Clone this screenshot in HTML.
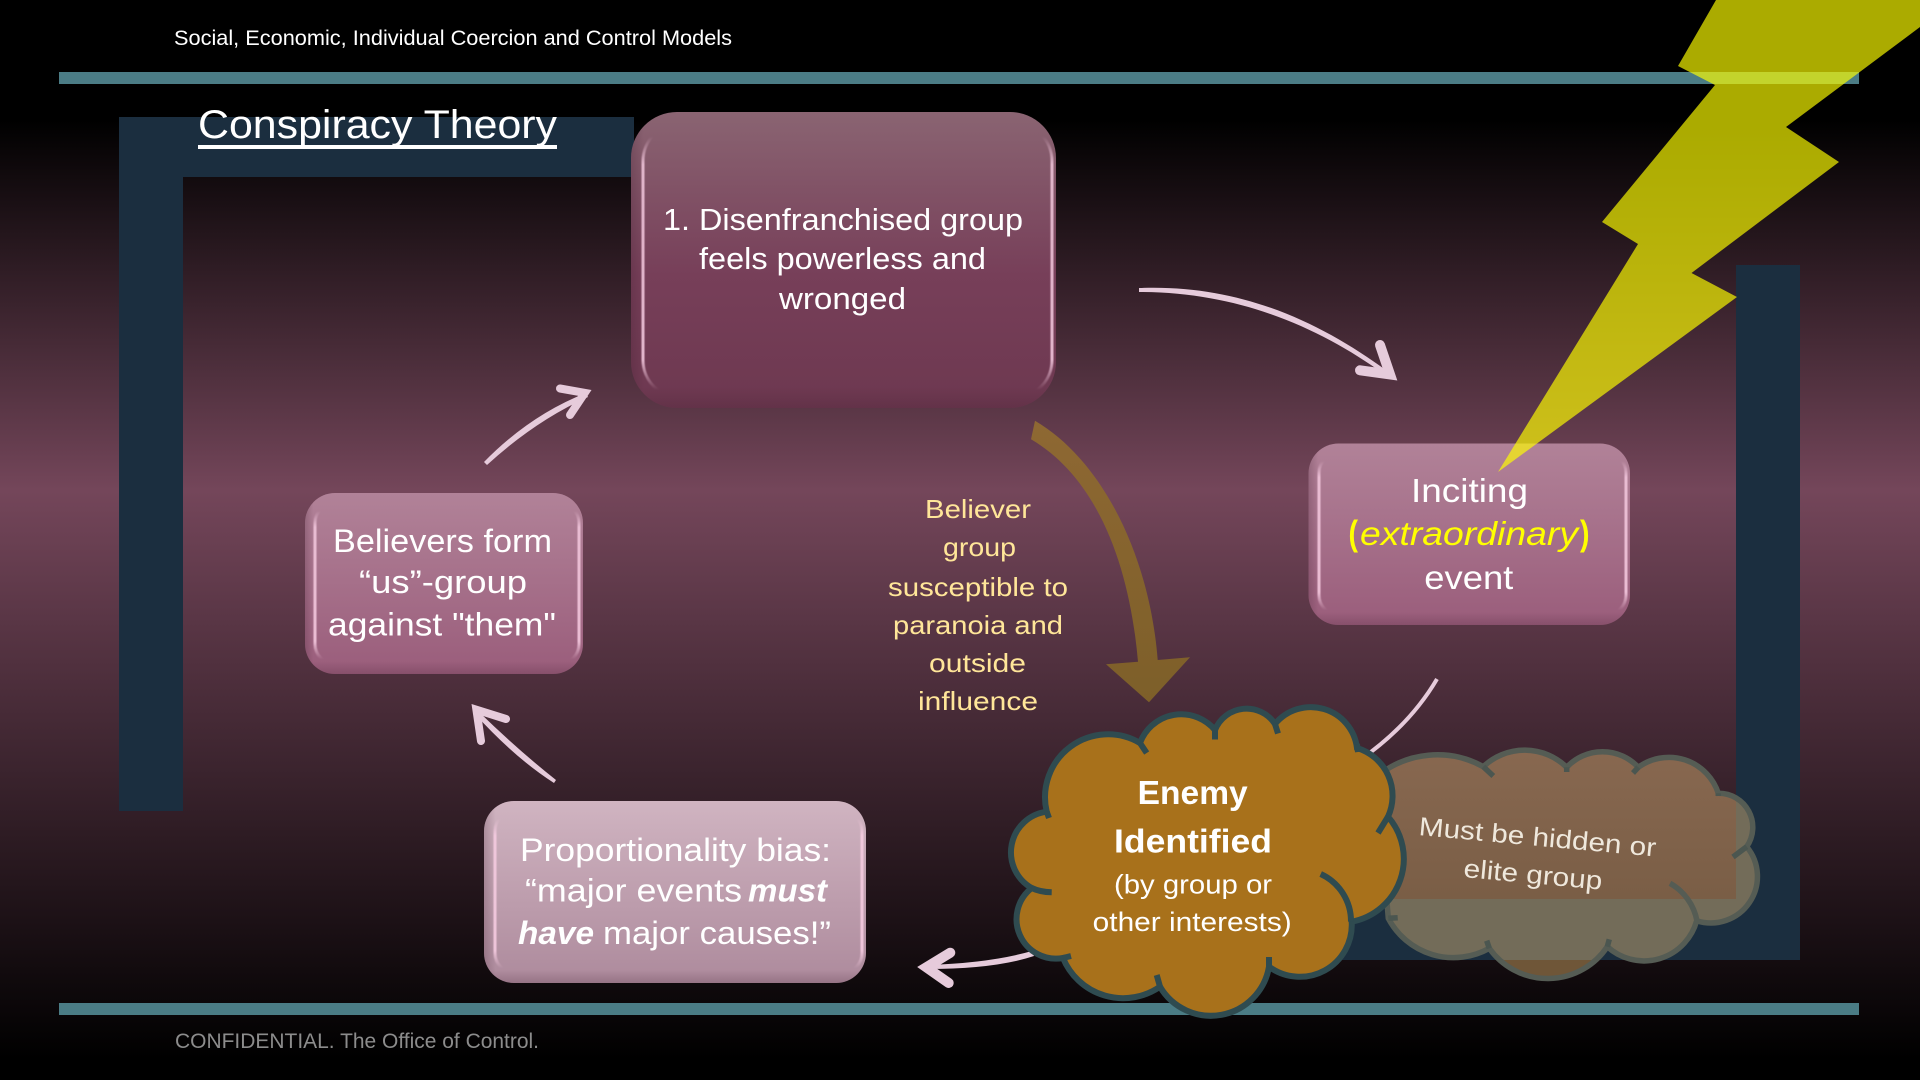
<!DOCTYPE html>
<html><head><meta charset="utf-8"><title>Conspiracy Theory</title>
<style>html,body{margin:0;padding:0;background:#000}svg{display:block}text{font-family:"Liberation Sans",sans-serif;fill:#fff}</style></head>
<body>
<svg width="1920" height="1080" viewBox="0 0 1920 1080" xmlns="http://www.w3.org/2000/svg">
<defs>
<linearGradient id="bg" gradientUnits="userSpaceOnUse" x1="0" y1="0" x2="0" y2="1080">
<stop offset="0" stop-color="#000"/><stop offset=".111" stop-color="#000"/><stop offset=".454" stop-color="#74465a"/><stop offset=".981" stop-color="#000"/><stop offset="1" stop-color="#000"/></linearGradient>
<linearGradient id="g1" x1="0" y1="0" x2="0" y2="1"><stop offset="0" stop-color="#8a6472"/><stop offset=".55" stop-color="#773f59"/><stop offset="1" stop-color="#6d3850"/></linearGradient>
<linearGradient id="g2" x1="0" y1="0" x2="0" y2="1"><stop offset="0" stop-color="#b18298"/><stop offset="1" stop-color="#9a5d7b"/></linearGradient>
<linearGradient id="g3" x1="0" y1="0" x2="0" y2="1"><stop offset="0" stop-color="#d0b4c1"/><stop offset="1" stop-color="#ad8a9c"/></linearGradient>
<linearGradient id="hl" x1="0" y1="0" x2="0" y2="1"><stop offset="0" stop-color="#fbd0e6" stop-opacity="0"/><stop offset=".05" stop-color="#fbd0e6" stop-opacity="0"/><stop offset=".15" stop-color="#fbd0e6" stop-opacity=".8"/><stop offset=".86" stop-color="#fbd0e6" stop-opacity=".85"/><stop offset=".97" stop-color="#fbd0e6" stop-opacity="0"/><stop offset="1" stop-color="#fbd0e6" stop-opacity="0"/></linearGradient>
<linearGradient id="lb" x1="0" y1="0" x2="1" y2="0"><stop offset="0" stop-color="#3a1a2a" stop-opacity=".22"/><stop offset=".03" stop-color="#3a1a2a" stop-opacity="0"/></linearGradient>
<linearGradient id="bb" x1="0" y1="0" x2="0" y2="1"><stop offset=".93" stop-color="#3a1a2a" stop-opacity="0"/><stop offset="1" stop-color="#3a1a2a" stop-opacity=".2"/></linearGradient>
<linearGradient id="br" gradientUnits="userSpaceOnUse" x1="0" y1="420" x2="0" y2="705"><stop offset="0" stop-color="#8e6833"/><stop offset="1" stop-color="#7d5f29"/></linearGradient>
<linearGradient id="cl" gradientUnits="userSpaceOnUse" x1="0" y1="750" x2="0" y2="899"><stop offset="0" stop-color="#886850"/><stop offset="1" stop-color="#7a5e46"/></linearGradient>
<filter id="sf" x="-5%" y="-5%" width="110%" height="110%"><feGaussianBlur stdDeviation=".6"/></filter>
<clipPath id="hc"><path d="M1376.7,776.7 A95,95 0 0 1 1483.3,766.7 A60,60 0 0 1 1566.7,767.3 A49,49 0 0 1 1638.3,767.3 A52,52 0 0 1 1718.3,793.3 A34,34 0 0 1 1746.7,846.7 A46.5,46.5 0 0 1 1696.7,920.7 A54.6,54.6 0 0 1 1607.3,946.7 A71.6,71.6 0 0 1 1489.3,948.3 A73.6,73.6 0 0 1 1388.3,918.3 Z"/></clipPath>
</defs>
<rect width="1920" height="1080" fill="url(#bg)"/>

<!-- brackets -->
<path d="M119,117H634V177H183V811H119Z" fill="#1b2e3f"/>
<path d="M1736,265H1800V960H1320V899H1736Z" fill="#1b2e3f"/>

<!-- bars -->
<rect x="59" y="72" width="1800" height="12" fill="#4b7c85"/>
<rect x="59" y="1003" width="1800" height="12" fill="#4b7c85"/>

<text x="174" y="45" font-size="21" textLength="558" lengthAdjust="spacingAndGlyphs">Social, Economic, Individual Coercion and Control Models</text>
<text x="198" y="138" font-size="40" textLength="359" lengthAdjust="spacingAndGlyphs">Conspiracy Theory</text>
<rect x="198" y="145" width="359" height="4" fill="#fff"/>
<text x="175" y="1048" font-size="21" style="fill:#8c8c8c" textLength="364" lengthAdjust="spacingAndGlyphs">CONFIDENTIAL. The Office of Control.</text>

<!-- Box 1 -->
<rect x="631" y="112" width="425" height="296" rx="46" fill="url(#g1)"/>
<rect x="631" y="112" width="425" height="296" rx="46" fill="url(#lb)"/>
<rect x="631" y="112" width="425" height="296" rx="46" fill="url(#bb)"/>
<rect x="643" y="123" width="409" height="275" rx="38" fill="none" stroke="url(#hl)" stroke-width="3" filter="url(#sf)"/>
<text x="663" y="230" font-size="31" textLength="360" lengthAdjust="spacingAndGlyphs">1. Disenfranchised group</text>
<text x="699" y="269" font-size="31" textLength="287" lengthAdjust="spacingAndGlyphs">feels powerless and</text>
<text x="779" y="309" font-size="31" textLength="127" lengthAdjust="spacingAndGlyphs">wronged</text>

<!-- Inciting box -->
<rect x="1308.5" y="443.5" width="321.5" height="181.5" rx="30" fill="url(#g2)"/>
<rect x="1308.5" y="443.5" width="321.5" height="181.5" rx="30" fill="url(#lb)"/>
<rect x="1308.5" y="443.5" width="321.5" height="181.5" rx="30" fill="url(#bb)"/>
<rect x="1319" y="453" width="307" height="162" rx="20" fill="none" stroke="url(#hl)" stroke-width="3" filter="url(#sf)"/>
<text x="1411" y="502" font-size="33" textLength="117" lengthAdjust="spacingAndGlyphs">Inciting</text>
<text x="1348.5" y="545" font-size="35" font-weight="bold" style="fill:#ffff00" textLength="9.5" lengthAdjust="spacingAndGlyphs">(</text>
<text x="1360" y="545" font-size="33" font-style="italic" style="fill:#ffff00" textLength="218" lengthAdjust="spacingAndGlyphs">extraordinary</text>
<text x="1580" y="545" font-size="35" font-weight="bold" style="fill:#ffff00" textLength="9.5" lengthAdjust="spacingAndGlyphs">)</text>
<text x="1424.3" y="589" font-size="33" textLength="89" lengthAdjust="spacingAndGlyphs">event</text>

<!-- Believers box -->
<rect x="305" y="493" width="278" height="181" rx="30" fill="url(#g2)"/>
<rect x="305" y="493" width="278" height="181" rx="30" fill="url(#lb)"/>
<rect x="305" y="493" width="278" height="181" rx="30" fill="url(#bb)"/>
<rect x="315" y="503" width="264" height="161" rx="20" fill="none" stroke="url(#hl)" stroke-width="3" filter="url(#sf)"/>
<text x="333" y="552" font-size="32" textLength="219" lengthAdjust="spacingAndGlyphs">Believers form</text>
<text x="359" y="593" font-size="32" textLength="168" lengthAdjust="spacingAndGlyphs">“us”-group</text>
<text x="328" y="635.5" font-size="32" textLength="228" lengthAdjust="spacingAndGlyphs">against "them"</text>

<!-- Proportionality box -->
<rect x="484" y="801" width="382" height="182" rx="30" fill="url(#g3)"/>
<rect x="484" y="801" width="382" height="182" rx="30" fill="url(#lb)"/>
<rect x="484" y="801" width="382" height="182" rx="30" fill="url(#bb)"/>
<rect x="495" y="811" width="367" height="162" rx="20" fill="none" stroke="url(#hl)" stroke-width="3" filter="url(#sf)"/>
<text x="520" y="861" font-size="32" textLength="311" lengthAdjust="spacingAndGlyphs">Proportionality bias:</text>
<text x="525" y="901.5" font-size="32" textLength="217" lengthAdjust="spacingAndGlyphs">“major events</text>
<text x="748" y="901.5" font-size="32" font-weight="bold" font-style="italic" textLength="79" lengthAdjust="spacingAndGlyphs">must</text>
<text x="518" y="944" font-size="32" font-weight="bold" font-style="italic" textLength="76" lengthAdjust="spacingAndGlyphs">have</text>
<text x="603" y="944" font-size="32" textLength="228" lengthAdjust="spacingAndGlyphs">major causes!”</text>

<!-- center text -->
<g font-size="26">
<text x="925" y="518" style="fill:#ffe699" textLength="106" lengthAdjust="spacingAndGlyphs">Believer</text>
<text x="943" y="556" style="fill:#ffe699" textLength="73" lengthAdjust="spacingAndGlyphs">group</text>
<text x="888" y="596" style="fill:#ffe699" textLength="180" lengthAdjust="spacingAndGlyphs">susceptible to</text>
<text x="893" y="634" style="fill:#ffe699" textLength="170" lengthAdjust="spacingAndGlyphs">paranoia and</text>
<text x="929" y="672" style="fill:#ffe699" textLength="97" lengthAdjust="spacingAndGlyphs">outside</text>
<text x="918" y="710" style="fill:#ffe699" textLength="120" lengthAdjust="spacingAndGlyphs">influence</text>
</g>

<!-- Brown arrow -->
<path d="M1035,420.7 C1105,462 1150,560 1157.7,660 L1190,657.3 L1149,702.3 L1106,664.3 L1138,661.7 C1130,570 1100,480 1031,439.3 Z" fill="url(#br)"/>

<!-- pink arrows -->
<g fill="#e6cbdb">
<path d="M1139,288 C1240,284 1320,322 1387,371 L1384,374 C1320,328 1240,292 1139,292 Z"/>
<path d="M484,462 Q530,415 586,393 L588,397 Q535,421 487,465 Z"/>
<path d="M556,780 Q518,750 478,711 L475,714 Q515,758 554,783 Z"/>
<path d="M1032,951 Q990,963 927,965 L927,969 Q995,969 1034,956 Z"/>
</g>
<g fill="none" stroke="#e6cbdb" stroke-linecap="round" stroke-linejoin="miter" stroke-miterlimit="12">
<path d="M1380,345 L1390,374.4 L1360,370.3" stroke-width="10"/>
<path d="M560,388.5 L584.8,392.9 L570,415" stroke-width="8"/>
<path d="M506,719 L476.4,709.7 L481,741" stroke-width="8"/>
<path d="M950.3,952.7 L926.3,967.3 L948.7,983" stroke-width="10"/>
<path d="M1437,679 Q1410,725 1360,760" stroke-width="4" stroke-linecap="butt"/>
</g>

<!-- Hidden cloud -->
<g clip-path="url(#hc)">
<rect x="1370" y="740" width="366" height="159" fill="url(#cl)"/>
<rect x="1736" y="740" width="40" height="220" fill="#736c59"/>
<rect x="1370" y="899" width="366" height="61" fill="#736c59"/>
<rect x="1370" y="960" width="410" height="40" fill="#6f5638"/>
</g>
<g fill="none" stroke="#555c54" stroke-width="5.5">
<path d="M1376.7,776.7 A95,95 0 0 1 1483.3,766.7 A60,60 0 0 1 1566.7,767.3 A49,49 0 0 1 1638.3,767.3 A52,52 0 0 1 1718.3,793.3 A34,34 0 0 1 1746.7,846.7 A46.5,46.5 0 0 1 1696.7,920.7 A54.6,54.6 0 0 1 1607.3,946.7 A71.6,71.6 0 0 1 1489.3,948.3 A73.6,73.6 0 0 1 1388.3,918.3 Z"/>
<path d="M1670,883.3 A54.6,54.6 0 0 1 1697,921"/>
<path d="M1483.3,766.7L1493.3,776M1566.7,767.3L1566.7,772M1638.3,767.3L1633,773M1718.3,793.3L1718.3,796M1746.7,846.7L1733,857M1607.3,946.7L1609.3,939.3M1489.3,948.3L1486.7,940.7M1388.3,918.3L1397.7,917.7" stroke="#4b5650"/>
</g>
<text transform="translate(1418.3,835) rotate(5.2)" font-size="26" style="fill:#efe8dc" textLength="238" lengthAdjust="spacingAndGlyphs">Must be hidden or</text>
<text transform="translate(1463,877) rotate(5.2)" font-size="26" style="fill:#efe8dc" textLength="139" lengthAdjust="spacingAndGlyphs">elite group</text>

<!-- Enemy cloud -->
<path d="M1046.7,811.7 A63,63 0 0 1 1140,743 A44,44 0 0 1 1215,730 A34,34 0 0 1 1275,724 A46.5,46.5 0 0 1 1357,748 A50,50 0 0 1 1388,816.7 A64,64 0 0 1 1351.7,921.7 A52,52 0 0 1 1269,966.7 A59,59 0 0 1 1160,986.7 A65,65 0 0 1 1063,958 A39.5,39.5 0 0 1 1031.7,888 A41,41 0 0 1 1046.7,811.7 Z" fill="#a8711b" stroke="#2f4b50" stroke-width="6"/>
<g fill="none" stroke="#2f4b50" stroke-width="6">
<path d="M1320.7,874 A52,52 0 0 1 1351,921.7"/>
<path d="M1140,743L1146.7,753M1215,730L1215,739.5M1275,724L1278,733.5M1357,744L1358,752M1388,816.7L1378,833M1269,957L1269,968M1160,986.7L1156.7,975M1063,958L1071,956M1031.7,888Q1040,892 1051.7,892.3M1046.7,811.7L1049,818"/>
</g>
<text x="1137.7" y="804" font-size="33" font-weight="bold" textLength="110" lengthAdjust="spacingAndGlyphs">Enemy</text>
<text x="1114" y="852.5" font-size="33" font-weight="bold" textLength="158" lengthAdjust="spacingAndGlyphs">Identified</text>
<text x="1114" y="893.5" font-size="27" textLength="158" lengthAdjust="spacingAndGlyphs">(by group or</text>
<text x="1092.7" y="931" font-size="27" textLength="199" lengthAdjust="spacingAndGlyphs">other interests)</text>

<!-- Lightning -->
<polygon points="1716,0 1678,66 1715,85 1602,222 1638,244 1498,472 1737,297 1691.5,273 1839,162 1786,127 1920,27 1920,0" fill="#ffff00" fill-opacity=".67"/>
</svg>
</body></html>
